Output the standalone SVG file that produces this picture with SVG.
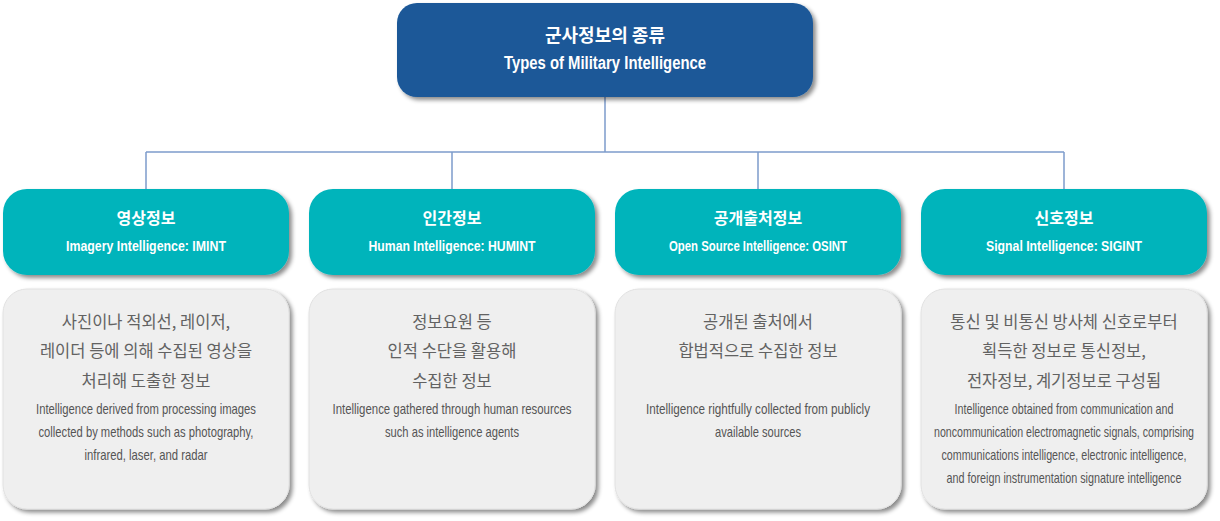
<svg xmlns="http://www.w3.org/2000/svg" width="1220" height="521" viewBox="0 0 1220 521">
<style>
.top{fill:#1b5898}
.head{fill:#00b4bb}
.card{fill:#efefef;stroke:#e2e2e2;stroke-width:1}
.conn{stroke:#7d9ccb;stroke-width:1.5;fill:none}
.tk{font-family:"Noto Sans CJK KR","Noto Sans",sans-serif;font-weight:700;fill:#fff;text-anchor:middle}
.te{font-family:"Liberation Sans Narrow","Liberation Sans","Noto Sans",sans-serif;font-stretch:condensed;font-weight:700;fill:#fff;text-anchor:middle}
.bk{font-family:"Noto Sans CJK KR","Noto Sans",sans-serif;font-size:16.5px;fill:#626262;text-anchor:middle}
.be{font-family:"Liberation Sans Narrow","Liberation Sans","Noto Sans",sans-serif;font-stretch:condensed;font-size:14.5px;fill:#555;text-anchor:middle}
</style>
<defs>
<filter id="sh" x="-10%" y="-10%" width="125%" height="130%">
<feDropShadow dx="3" dy="3" stdDeviation="2" flood-color="#000" flood-opacity="0.45"/>
</filter>
</defs>
<g id="connectors">
<path class="conn" d="M605 97 V152 M146 152 H1064 M146 152 V190 M452 152 V190 M758 152 V190 M1064 152 V190"/>
</g>
<g id="root">
<rect class="top" x="397" y="3" width="416" height="94" rx="20" filter="url(#sh)"/>
<text class="tk" x="605" y="41.5" font-size="18">군사정보의 종류</text>
<text class="te" x="605" y="69" font-size="17.5" textLength="202" lengthAdjust="spacingAndGlyphs">Types of Military Intelligence</text>
</g>
<g id="imint">
<rect class="head" x="3" y="189" width="286" height="86" rx="24" filter="url(#sh)"/>
<text class="tk" x="146" y="224" font-size="16">영상정보</text>
<text class="te" x="146" y="250.5" font-size="15.5" textLength="160" lengthAdjust="spacingAndGlyphs">Imagery Intelligence: IMINT</text>
<rect class="card" x="3" y="289" width="286" height="220" rx="24" filter="url(#sh)"/>
<text class="bk" x="146" y="328">사진이나 적외선, 레이저,</text>
<text class="bk" x="146" y="357">레이더 등에 의해 수집된 영상을</text>
<text class="bk" x="146" y="387">처리해 도출한 정보</text>
<text class="be" x="146" y="414" textLength="220" lengthAdjust="spacingAndGlyphs">Intelligence derived from processing images</text>
<text class="be" x="146" y="437" textLength="215" lengthAdjust="spacingAndGlyphs">collected by methods such as photography,</text>
<text class="be" x="146" y="460" textLength="123" lengthAdjust="spacingAndGlyphs">infrared, laser, and radar</text>
</g>
<g id="humint">
<rect class="head" x="309" y="189" width="286" height="86" rx="24" filter="url(#sh)"/>
<text class="tk" x="452" y="224" font-size="16">인간정보</text>
<text class="te" x="452" y="250.5" font-size="15.5" textLength="167" lengthAdjust="spacingAndGlyphs">Human Intelligence: HUMINT</text>
<rect class="card" x="309" y="289" width="286" height="220" rx="24" filter="url(#sh)"/>
<text class="bk" x="452" y="328">정보요원 등</text>
<text class="bk" x="452" y="357">인적 수단을 활용해</text>
<text class="bk" x="452" y="387">수집한 정보</text>
<text class="be" x="452" y="414" textLength="239" lengthAdjust="spacingAndGlyphs">Intelligence gathered through human resources</text>
<text class="be" x="452" y="437" textLength="134" lengthAdjust="spacingAndGlyphs">such as intelligence agents</text>
</g>
<g id="osint">
<rect class="head" x="615" y="189" width="286" height="86" rx="24" filter="url(#sh)"/>
<text class="tk" x="758" y="224" font-size="16">공개출처정보</text>
<text class="te" x="758" y="250.5" font-size="15.5" textLength="178" lengthAdjust="spacingAndGlyphs">Open Source Intelligence: OSINT</text>
<rect class="card" x="615" y="289" width="286" height="220" rx="24" filter="url(#sh)"/>
<text class="bk" x="758" y="328">공개된 출처에서</text>
<text class="bk" x="758" y="357">합법적으로 수집한 정보</text>
<text class="be" x="758" y="414" textLength="224" lengthAdjust="spacingAndGlyphs">Intelligence rightfully collected from publicly</text>
<text class="be" x="758" y="437" textLength="86" lengthAdjust="spacingAndGlyphs">available sources</text>
</g>
<g id="sigint">
<rect class="head" x="921" y="189" width="286" height="86" rx="24" filter="url(#sh)"/>
<text class="tk" x="1064" y="224" font-size="16">신호정보</text>
<text class="te" x="1064" y="250.5" font-size="15.5" textLength="156" lengthAdjust="spacingAndGlyphs">Signal Intelligence: SIGINT</text>
<rect class="card" x="921" y="289" width="286" height="220" rx="24" filter="url(#sh)"/>
<text class="bk" x="1064" y="328">통신 및 비통신 방사체 신호로부터</text>
<text class="bk" x="1064" y="357">획득한 정보로 통신정보,</text>
<text class="bk" x="1064" y="387">전자정보, 계기정보로 구성됨</text>
<text class="be" x="1064" y="414" textLength="219" lengthAdjust="spacingAndGlyphs">Intelligence obtained from communication and</text>
<text class="be" x="1064" y="437" textLength="260" lengthAdjust="spacingAndGlyphs">noncommunication electromagnetic signals, comprising</text>
<text class="be" x="1064" y="460" textLength="245" lengthAdjust="spacingAndGlyphs">communications intelligence, electronic intelligence,</text>
<text class="be" x="1064" y="483" textLength="235" lengthAdjust="spacingAndGlyphs">and foreign instrumentation signature intelligence</text>
</g>
</svg>
